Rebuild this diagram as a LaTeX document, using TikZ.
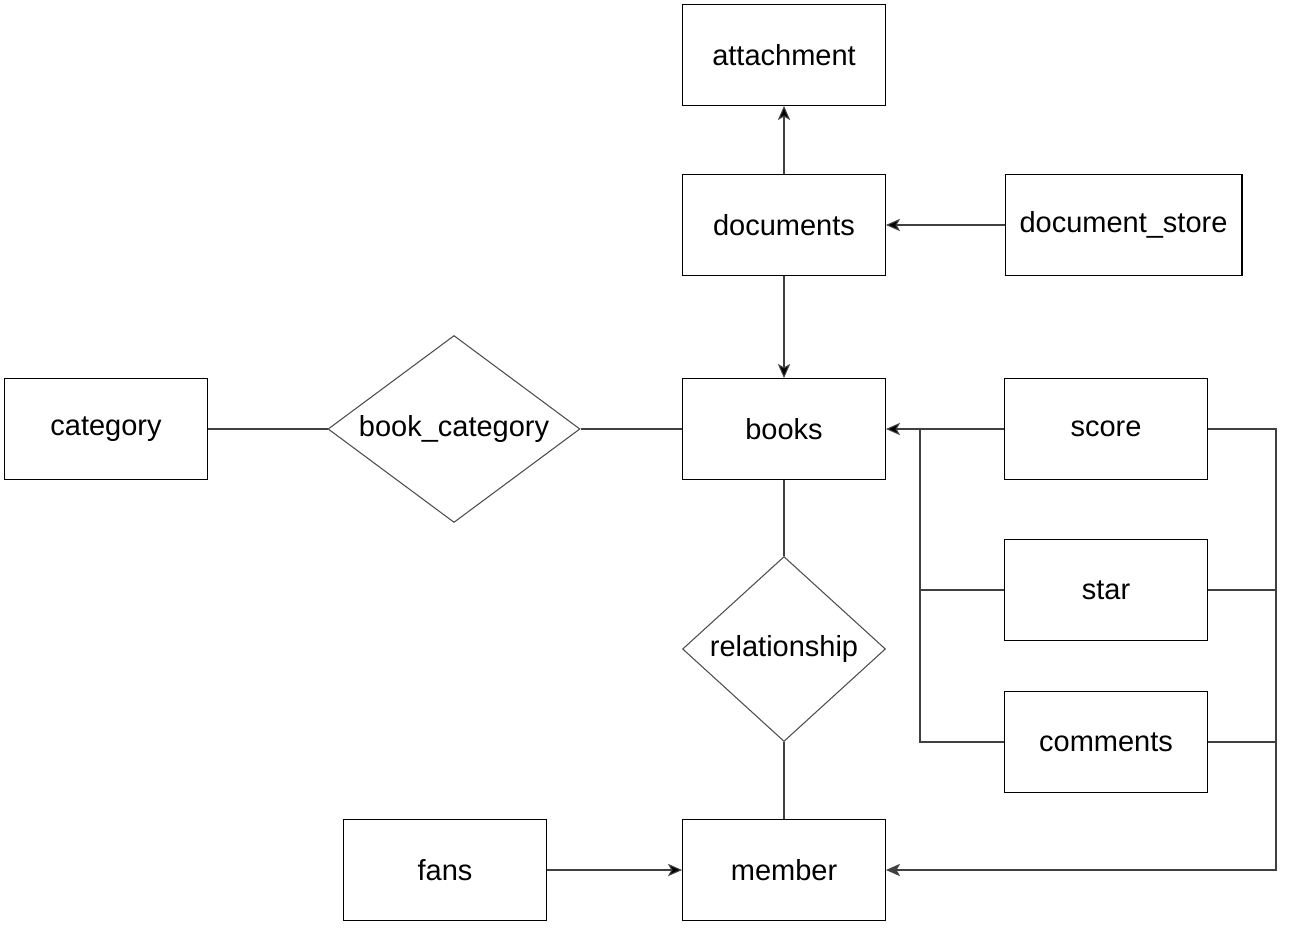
\documentclass[tikz,border=0pt]{standalone}
\usepackage{fontspec}
\setmainfont{Liberation Sans}
\usetikzlibrary{arrows.meta,shapes.geometric,positioning}

\begin{document}
\begin{tikzpicture}[x=0.02cm, y=-0.02cm, >={Stealth[length=8pt,width=7pt,inset=2pt]}, line width=0.6pt, font=\fontsize{16.5}{20}\selectfont]

        \tikzstyle{entity}=[draw=black, minimum width=4.06cm, minimum height=2.02cm, inner sep=0pt]
        \tikzstyle{relation}=[draw=black!70, diamond, inner sep=0pt]
        \tikzstyle{link}=[draw=black!75]

        \useasboundingbox (0,0) rectangle (1300,928);

        \node[entity]   (attachment) at (784,55)   {attachment};
        \node[entity]   (documents)  at (784,225)  {documents};
        \node[entity, minimum width=4.74cm] (store) at (1123.5,225) {document\_store};

        \node[entity]   (category)   at (106,429)  {category};
        \node[relation, minimum width=5.04cm, minimum height=3.74cm,
              label=center:book\_category] (bookcat) at (454,429) {};
        \node[entity]   (books)      at (784,429)  {books};

        \node[entity]   (score)      at (1106,429) {score};
        \node[entity]   (star)       at (1106,590) {star};
        \node[entity]   (comments)   at (1106,742) {comments};

        \node[relation, minimum width=4.06cm, minimum height=3.7cm,
              label=center:relationship] (rel) at (784,649) {};

        \node[entity]   (fans)       at (445,870)  {fans};
        \node[entity]   (member)     at (784,870)  {member};

        \coordinate (lbus) at (920,429);
        \coordinate (rbus) at (1276,870);

        \path[link]
        (documents.north) edge[->] (attachment.south)
        (store.west)      edge[->] (documents.east)
        (documents.south) edge[->] (books.north)
        (category.east)   edge     (bookcat.west)
        (bookcat.east)    edge     (books.west)
        (books.south)     edge     (rel.north)
        (rel.south)       edge     (member.north)
        (fans.east)       edge[->] (member.west)
        (score.west)      edge[->] (books.east)
        ;

        \draw[link] (star.west) -| (lbus);
        \draw[link] (comments.west) -| (lbus);
        \draw[link, ->] (score.east) -| (rbus) -- (member.east);
        \draw[link] (star.east) -- (star.east -| rbus);
        \draw[link] (comments.east) -- (comments.east -| rbus);
    \end{tikzpicture}
\end{document}
